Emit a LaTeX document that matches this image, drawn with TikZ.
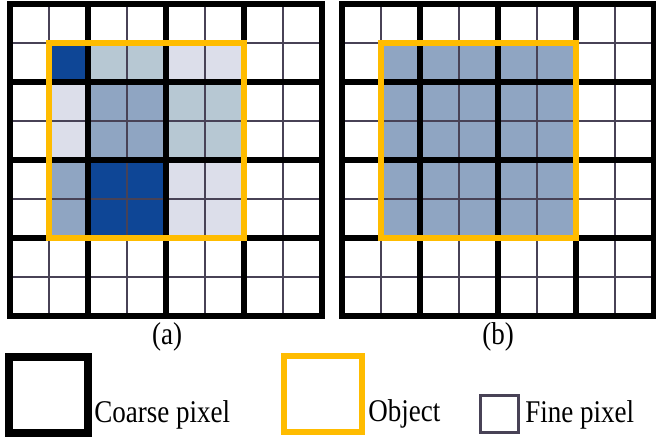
\documentclass[tikz,border=0pt]{standalone}
\usepackage{fontspec}
\setmainfont{Liberation Serif}[FakeStretch=0.855]
\usepackage{tikz}

\definecolor{darkcell}{RGB}{14,70,150}
\definecolor{midcell}{RGB}{143,165,194}
\definecolor{greycell}{RGB}{183,200,211}
\definecolor{palecell}{RGB}{220,222,234}
\definecolor{finegrey}{RGB}{72,66,86}
\definecolor{objyellow}{RGB}{255,188,0}

\begin{document}
\begin{tikzpicture}[x=0.75pt,y=0.75pt,yscale=-1,xscale=1,
  fineline/.style={color=finegrey, line width=2pt},
  coarseline/.style={color=black, line width=4.5pt},
  objectline/.style={color=objyellow, line width=4.5pt},
  keytext/.style={font=\fontsize{23.7}{28}\selectfont, inner sep=0pt}]
%set diagram left start at 0, and has height of 442
\useasboundingbox (0,0) rectangle (656,442);
\fill [white] (0,0) rectangle (656,442);

%Shape: Rectangle (cells of grid a)
\fill [darkcell] (49,43) rectangle (88,82);
\fill [greycell] (88,43) rectangle (166,82);
\fill [palecell] (166,43) rectangle (244,82);
\fill [palecell] (49,82) rectangle (88,160);
\fill [midcell] (88,82) rectangle (166,160);
\fill [greycell] (166,82) rectangle (244,160);
\fill [midcell] (49,160) rectangle (88,238);
\fill [darkcell] (88,160) rectangle (166,238);
\fill [palecell] (166,160) rectangle (244,238);
%Shape: Rectangle (cells of grid b)
\fill [midcell] (381,43) rectangle (576,238);

%Straight Lines (fine pixels, grid a)
\draw [fineline] (49,4) -- (49,316) ;
\draw [fineline] (127,4) -- (127,316) ;
\draw [fineline] (205,4) -- (205,316) ;
\draw [fineline] (283,4) -- (283,316) ;
\draw [fineline] (10,43) -- (322,43) ;
\draw [fineline] (10,121) -- (322,121) ;
\draw [fineline] (10,199) -- (322,199) ;
\draw [fineline] (10,277) -- (322,277) ;
%Straight Lines (fine pixels, grid b)
\draw [fineline] (381,4) -- (381,316) ;
\draw [fineline] (459,4) -- (459,316) ;
\draw [fineline] (537,4) -- (537,316) ;
\draw [fineline] (615,4) -- (615,316) ;
\draw [fineline] (342,43) -- (654,43) ;
\draw [fineline] (342,121) -- (654,121) ;
\draw [fineline] (342,199) -- (654,199) ;
\draw [fineline] (342,277) -- (654,277) ;

%Straight Lines (coarse pixels, grid a)
\draw [coarseline] (88,4) -- (88,316) ;
\draw [coarseline] (166,4) -- (166,316) ;
\draw [coarseline] (244,4) -- (244,316) ;
\draw [coarseline] (10,82) -- (322,82) ;
\draw [coarseline] (10,160) -- (322,160) ;
\draw [coarseline] (10,238) -- (322,238) ;
\draw [coarseline] (10,4) rectangle (322,316) ;
%Straight Lines (coarse pixels, grid b)
\draw [coarseline] (420,4) -- (420,316) ;
\draw [coarseline] (498,4) -- (498,316) ;
\draw [coarseline] (576,4) -- (576,316) ;
\draw [coarseline] (342,82) -- (654,82) ;
\draw [coarseline] (342,160) -- (654,160) ;
\draw [coarseline] (342,238) -- (654,238) ;
\draw [coarseline] (342,4) rectangle (654,316) ;

%Shape: Rectangle (object)
\draw [objectline] (49,43) rectangle (244,238) ;
\draw [objectline] (381,43) rectangle (576,238) ;

% Text Node
\node [keytext, anchor=base] (capa) at (167,344.5) {(a)};
% Text Node
\node [keytext, anchor=base] (capb) at (498,344.5) {(b)};

%Shape: Square (legend)
\node [draw=black, line width=6pt, minimum width=59.25pt, minimum height=57pt, inner sep=0pt] (coarsekey) at (48.5,395) {};
\node [draw=objyellow, line width=4.5pt, minimum width=58.5pt, minimum height=57.4pt, inner sep=0pt] (objectkey) at (323,394) {};
\node [draw=finegrey, line width=2.25pt, minimum width=28.5pt, minimum height=27.75pt, inner sep=0pt] (finekey) at (499,413.5) {};

% Text Node
\node [keytext, anchor=base west] (coarselabel) at (94,422) {Coarse pixel};
% Text Node
\node [keytext, anchor=base west] (objectlabel) at (368,421) {Object};
% Text Node
\node [keytext, anchor=base west] (finelabel) at (525,422) {Fine pixel};

\end{tikzpicture}
\end{document}
